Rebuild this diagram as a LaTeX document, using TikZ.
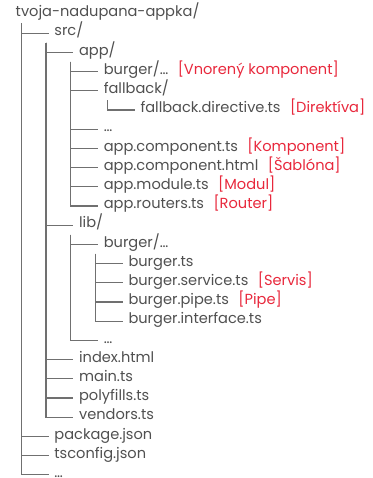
\documentclass[tikz,border=0pt]{standalone}
\usepackage{fontspec}
\setmainfont{Poppins}
\usepackage{xcolor}
\usetikzlibrary{trees}
\definecolor{treegray}{HTML}{505050}
\definecolor{linegray}{HTML}{707070}
\definecolor{tagred}{HTML}{E8283C}
\newcommand{\tagnote}[1]{\hspace{0.65em}\textcolor{tagred}{[#1]}}

\begin{document}
\begin{tikzpicture}[%
  every node/.style={anchor=west, inner sep=0pt, text height=1ex, text depth=0pt,
    text=treegray, font=\fontsize{14.6}{17}\selectfont,
    execute at begin node={\setbox0=\hbox\bgroup},
    execute at end node={\egroup\rlap{\box0}}},
  grow via three points={one child at (24pt,-19.2pt) and
  two children at (24pt,-19.2pt) and (24pt,-38.4pt)},
  edge from parent/.style={draw=linegray, line width=1.3pt},
  edge from parent path={([xshift=-32.5pt,yshift=-9.5pt]\tikzchildnode.west |- \tikzparentnode.west) |- ([xshift=-5pt]\tikzchildnode.west)}]
  \useasboundingbox (-15pt,14pt) rectangle (357pt,-464pt);
  \node (root) {tvoja-nadupana-appka/}
    child [xshift=14pt] { node (src) {src/}
      child { node (app) {app/}
        child { node (appburger) {burger/\ldots\tagnote{Vnorený komponent}}}
        child { node (fallback) {fallback/}
          child [xshift=12pt] { node (directive) {fallback.directive.ts\tagnote{Direktíva}}}
        }
        child [missing] {}
        child { node (appdots) {\ldots}}
        child { node (component) {app.component.ts\tagnote{Komponent}}}
        child { node (template) {app.component.html\tagnote{Šablóna}}}
        child { node (module) {app.module.ts\tagnote{Modul}}}
        child { node (routers) {app.routers.ts\tagnote{Router}}}
      }
      child [missing] {}
      child [missing] {}
      child [missing] {}
      child [missing] {}
      child [missing] {}
      child [missing] {}
      child [missing] {}
      child [missing] {}
      child { node (lib) {lib/}
        child { node (libburger) {burger/\ldots}
          child { node (burgerts) {burger.ts}}
          child { node (service) {burger.service.ts\tagnote{Servis}}}
          child { node (pipe) {burger.pipe.ts\tagnote{Pipe}}}
          child { node (interface) {burger.interface.ts}}
        }
        child [missing] {}
        child [missing] {}
        child [missing] {}
        child [missing] {}
        child { node (libdots) {\ldots}}
      }
      child [missing] {}
      child [missing] {}
      child [missing] {}
      child [missing] {}
      child [missing] {}
      child [missing] {}
      child { node (index) {index.html}}
      child { node (main) {main.ts}}
      child { node (polyfills) {polyfills.ts}}
      child { node (vendors) {vendors.ts}}
    }
    child [missing] {}
    child [missing] {}
    child [missing] {}
    child [missing] {}
    child [missing] {}
    child [missing] {}
    child [missing] {}
    child [missing] {}
    child [missing] {}
    child [missing] {}
    child [missing] {}
    child [missing] {}
    child [missing] {}
    child [missing] {}
    child [missing] {}
    child [missing] {}
    child [missing] {}
    child [missing] {}
    child [missing] {}
    child [missing] {}
    child [xshift=14pt] { node (package) {package.json}}
    child [xshift=14pt] { node (tsconfig) {tsconfig.json}}
    child [xshift=14pt] { node (rootdots) {\ldots}};
\end{tikzpicture}
\end{document}
